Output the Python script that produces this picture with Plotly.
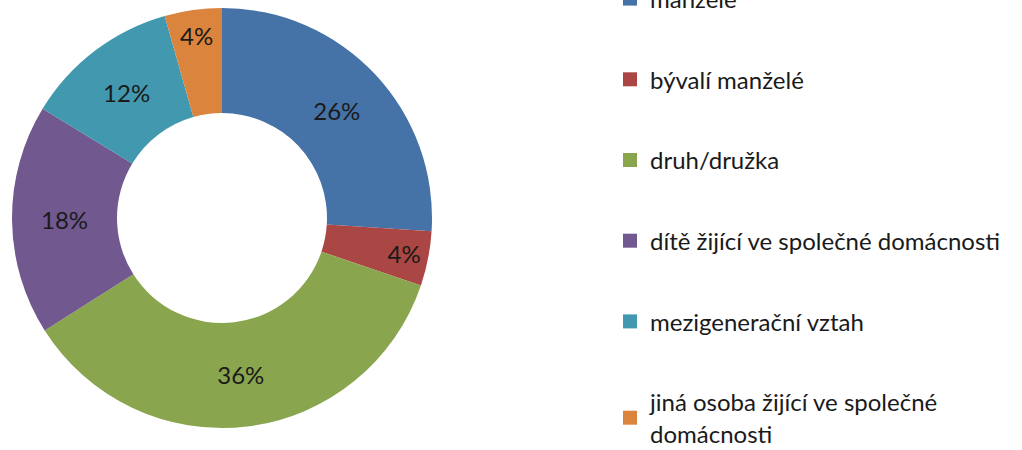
import plotly.graph_objects as go

labels = ["manželé", "bývalí manželé", "druh/družka",
          "dítě žijící ve společné domácnosti", "mezigenerační vztah",
          "jiná osoba žijící ve společné<br>domácnosti"]
values = [26.0, 4.2, 35.8, 17.7, 11.9, 4.4]
colors = ["#4572A7", "#AA4643", "#89A54E", "#71588F", "#4198AF", "#DB843D"]

FONT = "Lato"
W, H = 1022, 450

def px_x(x):
    return x / W

def px_y(y):
    return 1 - y / H

fig = go.Figure()
fig.add_trace(go.Pie(
    labels=labels, values=values, hole=0.5, sort=False, direction="clockwise",
    rotation=0, marker=dict(colors=colors, line=dict(width=0)),
    texttemplate="%{percent:.0%}", textposition="inside",
    insidetextorientation="horizontal",
    textfont=dict(family=FONT, size=24, color="#1a1a1a"),
    domain=dict(x=[px_x(12), px_x(432)], y=[px_y(428), px_y(8)]),
    showlegend=False, hoverinfo="label+percent",
))

for i, (lab, col) in enumerate(zip(labels, colors)):
    fig.add_trace(go.Scatter(
        x=[None], y=[None], mode="markers", name=lab,
        marker=dict(symbol="square", size=14, color=col),
        legendgroup=f"g{i}", showlegend=True,
    ))

fig.update_layout(
    width=W, height=H,
    margin=dict(l=0, r=0, t=0, b=0, autoexpand=False),
    paper_bgcolor="white", plot_bgcolor="white",
    xaxis=dict(visible=False), yaxis=dict(visible=False),
    legend=dict(x=px_x(610), y=px_y(-23.5), xanchor="left", yanchor="top",
                font=dict(family=FONT, size=24, color="#1a1a1a"),
                tracegroupgap=46.5, itemwidth=30, maxheight=2000,
                bgcolor="rgba(0,0,0,0)"),
    font=dict(family=FONT),
)

fig.write_html("out.html",
               config={"displayModeBar": False},
               post_script="document.body.style.margin='0';"
                           "document.body.style.overflow='hidden';")
